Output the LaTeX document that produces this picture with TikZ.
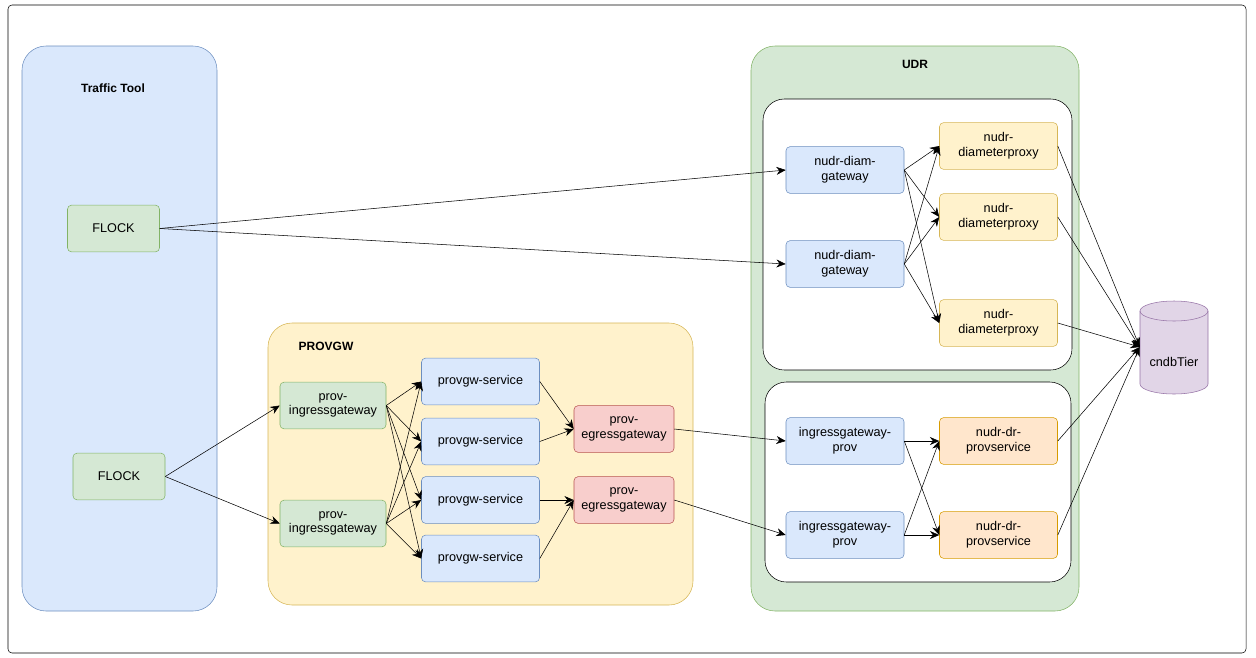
\documentclass[tikz,border=0pt]{standalone}
\usepackage{fontspec}
\setmainfont{Liberation Sans}
\usetikzlibrary{arrows.meta}
\definecolor{bluef}{HTML}{DAE8FC}\definecolor{blued}{HTML}{6C8EBF}
\definecolor{greenf}{HTML}{D5E8D4}\definecolor{greend}{HTML}{82B366}
\definecolor{yelf}{HTML}{FFF2CC}\definecolor{yeld}{HTML}{D6B656}
\definecolor{redf}{HTML}{F8CECC}\definecolor{redd}{HTML}{B85450}
\definecolor{orf}{HTML}{FFE6CC}\definecolor{ord}{HTML}{D79B00}
\definecolor{purf}{HTML}{E1D5E7}\definecolor{purd}{HTML}{9673A6}
\tikzset{
  box/.style={draw, rounded corners=3pt, minimum width=88.5pt, minimum height=35pt,
    align=center, font=\fontsize{9.5}{11}\selectfont, inner sep=1pt},
  blu/.style={box, fill=bluef, draw=blued},
  grn/.style={box, fill=greenf, draw=greend},
  yel/.style={box, fill=yelf, draw=yeld},
  red/.style={box, fill=redf, draw=redd},
  org/.style={box, fill=orf, draw=ord},
  area/.style={draw, rounded corners=18pt},
  ttl/.style={font=\bfseries\fontsize{9}{11}\selectfont},
  arr/.style={-{Stealth[length=7pt,width=6pt]}}
}
\begin{document}
\begin{tikzpicture}[x=0.75pt,y=-0.75pt]
\useasboundingbox (0,0) rectangle (1256,657);
\draw[rounded corners=3pt] (8,5) rectangle (1246,653);
% areas
\draw[area, fill=bluef, draw=blued] (22,46) rectangle (217,611);
\node[ttl] (tt) at (113,88) {Traffic Tool};
\draw[area, fill=yelf, draw=yeld] (268,323) rectangle (693,605);
\node[ttl] (pg) at (326,346) {PROVGW};
\draw[area, fill=greenf, draw=greend] (751,46) rectangle (1079,611);
\node[ttl] (udr) at (915,64) {UDR};
\draw[fill=white, rounded corners=16pt] (763,99) rectangle (1072,370);
\draw[fill=white, rounded corners=16pt] (765,382) rectangle (1071,582);
% traffic tool
\node[grn, minimum width=69pt] (f1) at (113.5,228.5) {FLOCK};
\node[grn, minimum width=69pt] (f2) at (119,476.5) {FLOCK};
% provgw
\node[grn, minimum width=79.5pt] (in1) at (333,405.5) {prov-\\ingressgateway};
\node[grn, minimum width=79.5pt] (in2) at (333,523.5) {prov-\\ingressgateway};
\foreach \n/\y in {1/381.5,2/441.5,3/500,4/558.5}
  \node[blu] (s\n) at (480.5,\y) {provgw-service};
\node[red, minimum width=75pt] (e1) at (624,429) {prov-\\egressgateway};
\node[red, minimum width=75pt] (e2) at (624,500) {prov-\\egressgateway};
% udr
\node[blu] (dg1) at (845,170) {nudr-diam-\\gateway};
\node[blu] (dg2) at (845,264) {nudr-diam-\\gateway};
\node[yel] (dp1) at (998.5,146) {nudr-\\diameterproxy};
\node[yel] (dp2) at (998.5,217) {nudr-\\diameterproxy};
\node[yel] (dp3) at (998.5,323) {nudr-\\diameterproxy};
\node[blu] (ig1) at (845,441) {ingressgateway-\\prov};
\node[blu] (ig2) at (845,535) {ingressgateway-\\prov};
\node[org] (ps1) at (998.5,441) {nudr-dr-\\provservice};
\node[org] (ps2) at (998.5,535) {nudr-dr-\\provservice};
% cndbTier
\draw[fill=purf, draw=purd] (1140,311) -- (1140,384) arc[start angle=180,end angle=0,x radius=34,y radius=10]
  -- (1208,311) arc[start angle=0,end angle=-180,x radius=34,y radius=10] -- cycle;
\draw[draw=purd] (1140,311) arc[start angle=180,end angle=0,x radius=34,y radius=10];
\node[minimum width=51pt, minimum height=70.5pt, inner sep=0pt] (db) at (1174,347) {};
\node[font=\fontsize{9.5}{11}\selectfont] (dbt) at (1174,362) {cndbTier};
% connectors
\draw[arr] (f1.east) -- (dg1.west);
\draw[arr] (f1.east) -- (dg2.west);
\draw[arr] (f2.east) -- (in1.west);
\draw[arr] (f2.east) -- (in2.west);
\foreach \i in {1,2}
  \foreach \s in {1,2,3,4}
    \draw[arr] (in\i.east) -- (s\s.west);
\draw[arr] (s1.east) -- (e1.west);
\draw[arr] (s2.east) -- (e1.west);
\draw[arr] (s3.east) -- (e2.west);
\draw[arr] (s4.east) -- (e2.west);
\draw[arr] (e1.east) -- (ig1.west);
\draw[arr] (e2.east) -- (ig2.west);
\foreach \i in {1,2}{
  \foreach \p in {1,2,3}
    \draw[arr] (dg\i.east) -- (dp\p.west);
  \foreach \p in {1,2}
    \draw[arr] (ig\i.east) -- (ps\p.west);
}
\foreach \p in {dp1,dp2,dp3,ps1,ps2}
  \draw[arr] (\p.east) -- (db.west);
\end{tikzpicture}
\end{document}
